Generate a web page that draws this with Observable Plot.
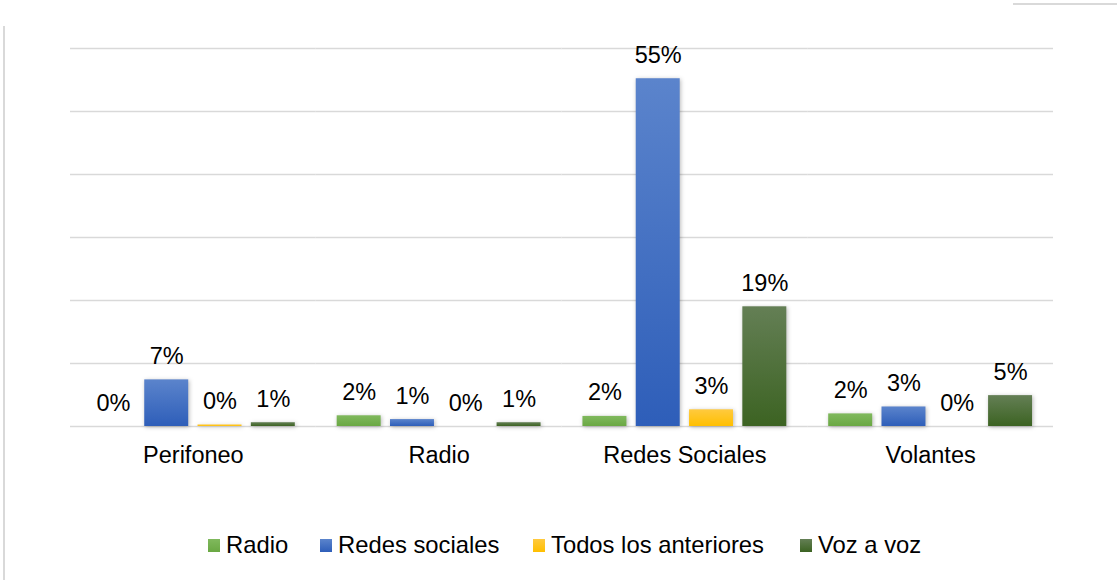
<!DOCTYPE html>
<html><head><meta charset="utf-8">
<script src="https://cdn.jsdelivr.net/npm/d3@7"></script>
<script src="https://cdn.jsdelivr.net/npm/@observablehq/plot@0.6"></script>
<style>
body{margin:0;background:#fff;font-family:"Liberation Sans",Arial,sans-serif;}
#wrap{position:relative;width:1117px;height:580px;overflow:hidden;background:#fff;}
#chart{position:absolute;left:0;top:0;}
#legend{position:absolute;left:0;top:532px;width:1117px;height:30px;font-size:23.8px;color:#000;white-space:nowrap;}
#legend .item{position:absolute;top:0;display:flex;align-items:center;height:26px;}
#legend .sw{width:12px;height:13px;margin-right:6px;}
.bl{position:absolute;left:3px;top:26px;width:2px;height:560px;background:#d9d9d9;}
.tr{position:absolute;left:1013px;top:3px;width:110px;height:2px;background:#d9d9d9;}
</style></head><body>
<div id="wrap"><div id="chart"></div><div id="legend"></div><div class="bl"></div><div class="tr"></div></div>
<script>
const categories = ["Perifoneo", "Radio", "Redes Sociales", "Volantes"];
const seriesNames = ["Radio", "Redes sociales", "Todos los anteriores", "Voz a voz"];
const radioValues = [0, 1.7, 1.6, 2.0];
const redesValues = [7.4, 1.1, 55.2, 3.1];
const todosValues = [0.25, 0, 2.65, 0];
const vozValues = [0.6, 0.6, 19.0, 4.9];
const yTicks = [0, 10, 20, 30, 40, 50, 60];

const seriesTop = ["#80b95d", "#5b84cc", "#ffca3f", "#647f55"];
const seriesBottom = ["#6aa843", "#2e5eb9", "#ffbf00", "#3c6322"];
const legendLeft = [208, 320, 533, 800];

const seriesValues = [radioValues, redesValues, todosValues, vozValues];
const rows = categories.flatMap((c, i) => seriesNames.map((s, j) => ({
  category: c, series: s, value: seriesValues[j][i], idx: j
})));

const defsMark = () => {
  const defs = d3.create("svg:defs");
  seriesTop.forEach((t, i) => {
    const g = defs.append("linearGradient").attr("id", "grad" + i)
      .attr("x1", 0).attr("x2", 0).attr("y1", 0).attr("y2", 1);
    g.append("stop").attr("offset", "0%").attr("stop-color", t);
    g.append("stop").attr("offset", "100%").attr("stop-color", seriesBottom[i]);
  });
  return defs.node();
};

const chart = Plot.plot({
  width: 1117,
  height: 490,
  marginLeft: 70,
  marginRight: 64,
  marginTop: 48,
  marginBottom: 64,
  style: {fontFamily: "'Liberation Sans', Arial, sans-serif", fontSize: "23.5px", color: "#000", background: "transparent"},
  fx: {domain: categories, padding: 0, round: false, axis: "bottom", tickSize: 0, tickPadding: 20, label: null},
  x: {domain: seriesNames, paddingInner: 0.175, paddingOuter: 0.393, round: false, axis: null},
  y: {domain: [0, 60], axis: null},
  color: {type: "identity"},
  marks: [
    defsMark,
    Plot.ruleY(yTicks, {stroke: "#d9d9d9", strokeWidth: 1.5}),
    Plot.barY(rows, {fx: "category", x: "series", y: "value", fill: d => `url(#grad${d.idx})`}),
    Plot.text(rows, {fx: "category", x: "series", y: "value", text: d => Math.round(d.value) + "%", dy: -23.5, fontSize: 23.5, fill: "#000"})
  ]
});
d3.select(chart).selectAll("g[aria-label='bar'] rect")
  .style("filter", "drop-shadow(1.5px 1.5px 2px rgba(0,0,0,0.28))");
document.getElementById("chart").appendChild(chart);

const legend = d3.select("#legend");
seriesNames.forEach((s, i) => {
  const it = legend.append("div").attr("class", "item").style("left", legendLeft[i] + "px");
  it.append("div").attr("class", "sw")
    .style("background", `linear-gradient(${seriesTop[i]}, ${seriesBottom[i]})`);
  it.append("span").text(s);
});
</script>
</body></html>
